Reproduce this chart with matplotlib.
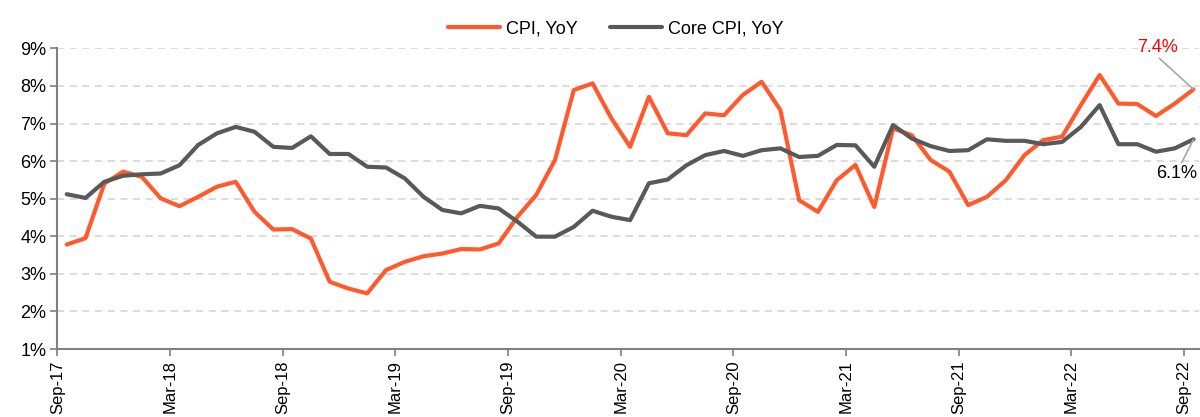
import numpy as np
import matplotlib
matplotlib.use('agg')
import matplotlib.pyplot as plt

# monthly data, Sep-17 .. Sep-22
cpi = [3.78, 3.95, 5.40, 5.72, 5.58, 5.01, 4.80, 5.05, 5.32, 5.45,
       4.65, 4.18, 4.19, 3.94, 2.79, 2.61, 2.48, 3.10, 3.32, 3.47,
       3.54, 3.66, 3.65, 3.81, 4.52, 5.10, 6.03, 7.89, 8.07, 7.14,
       6.38, 7.71, 6.74, 6.69, 7.27, 7.22, 7.76, 8.11, 7.36, 4.96,
       4.65, 5.49, 5.90, 4.78, 6.87, 6.69, 6.03, 5.72, 4.83, 5.05,
       5.49, 6.16, 6.56, 6.65, 7.49, 8.29, 7.53, 7.52, 7.20, 7.53,
       7.91]
core = [5.12, 5.02, 5.45, 5.61, 5.65, 5.67, 5.89, 6.43, 6.74, 6.91,
        6.78, 6.38, 6.35, 6.66, 6.19, 6.19, 5.85, 5.83, 5.54, 5.05,
        4.70, 4.61, 4.81, 4.74, 4.39, 3.99, 3.99, 4.25, 4.68, 4.52,
        4.43, 5.41, 5.51, 5.89, 6.16, 6.27, 6.14, 6.29, 6.34, 6.11,
        6.14, 6.43, 6.42, 5.85, 6.96, 6.60, 6.40, 6.27, 6.29, 6.58,
        6.54, 6.54, 6.45, 6.51, 6.91, 7.49, 6.45, 6.45, 6.25, 6.34,
        6.58]
tick_labels = ['Sep-17', 'Mar-18', 'Sep-18', 'Mar-19', 'Sep-19', 'Mar-20',
               'Sep-20', 'Mar-21', 'Sep-21', 'Mar-22', 'Sep-22']
cpi_label = '7.4%'
core_label = '6.1%'

plt.rcParams['font.family'] = ['Liberation Sans', 'DejaVu Sans']

orange = '#ff5a2e'
grey = '#595959'

fig = plt.figure(figsize=(12, 4.17), dpi=100)
ax = fig.add_axes([0.0478, 0.163, 0.9515, 0.721])

x = np.arange(len(cpi)) + 0.5
ax.plot(x, cpi, color=orange, lw=3, label='CPI, YoY', solid_capstyle='round',
        solid_joinstyle='round', zorder=3)
ax.plot(x, core, color=grey, lw=3, label='Core CPI, YoY', solid_capstyle='round',
        solid_joinstyle='round', zorder=3)

ax.set_xlim(0, 60.8)
ax.set_ylim(1, 9)
ax.set_yticks(np.arange(1, 10))
ax.set_yticklabels(['%d%%' % v for v in range(1, 10)], fontsize=13)
ax.set_xticks(np.arange(0, 61, 6))
ax.set_xticklabels(tick_labels, rotation=90, fontsize=12)

ax.grid(axis='y', color='#d9d9d9', ls=(0, (4, 3)), lw=1.3)
ax.set_axisbelow(True)
for s in ['top', 'right']:
    ax.spines[s].set_visible(False)
for s in ['left', 'bottom']:
    ax.spines[s].set_color('#808080')
    ax.spines[s].set_linewidth(1.5)
ax.tick_params(axis='both', color='#808080', width=1.2, length=5, pad=3)

# end-of-series labels with leader lines
ax.annotate(cpi_label, xy=(x[-1], cpi[-1]), xytext=(1157, 370),
            textcoords='figure pixels', color='#ff0000', fontsize=13,
            ha='center', va='center',
            arrowprops=dict(arrowstyle='-', color='#a6a6a6', lw=1.2,
                            relpos=(0.55, -0.15), shrinkA=0, shrinkB=0))
ax.annotate(core_label, xy=(x[-1], core[-1]), xytext=(1177, 243),
            textcoords='figure pixels', color='black', fontsize=13,
            ha='center', va='center',
            arrowprops=dict(arrowstyle='-', color='#a6a6a6', lw=1.2,
                            relpos=(0.6, 1.1), shrinkA=0, shrinkB=0))

fig.legend(loc='upper center', bbox_to_anchor=(0.513, 0.99), ncol=2, frameon=False,
           fontsize=13, handlelength=2.9, columnspacing=1.8, handletextpad=0.3)

fig.savefig('out.png', dpi=100)
